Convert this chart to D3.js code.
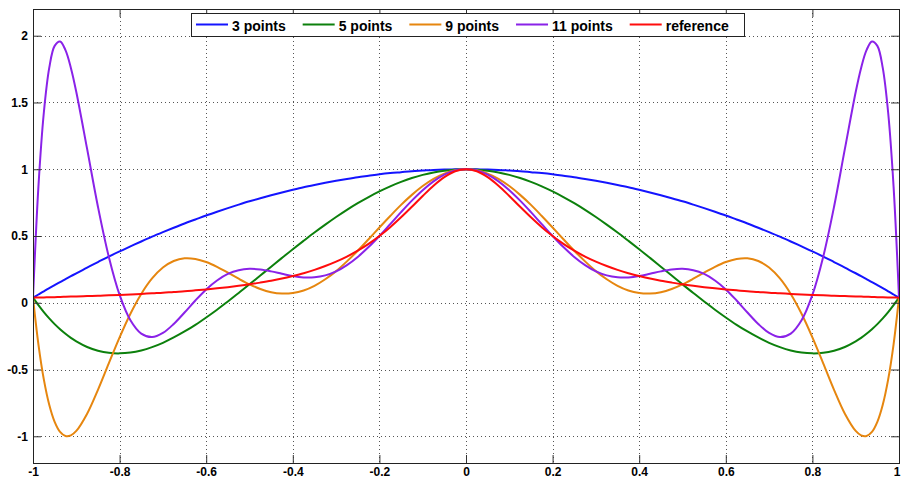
<!DOCTYPE html>
<html>
<head>
<meta charset="utf-8">
<script src="https://cdn.jsdelivr.net/npm/d3@7"></script>
<style>
  body { margin: 0; background: #fff; }
  svg { display: block; font-family: "Liberation Sans", Arial, Helvetica, sans-serif; }
</style>
</head>
<body>
<svg id="chart" width="901" height="479"></svg>
<script>
// sample positions along x (denser near the ends), and curve values
const xs = [-1, -0.9875, -0.975, -0.9625, -0.95, -0.9375, -0.925, -0.9125, -0.9, -0.875, -0.85, -0.825, -0.8, -0.775, -0.75, -0.725, -0.7, -0.675, -0.65, -0.625, -0.6, -0.575, -0.55, -0.525,
  -0.5, -0.475, -0.45, -0.425, -0.4, -0.375, -0.35, -0.325, -0.3, -0.275, -0.25, -0.225, -0.2, -0.175, -0.15, -0.125, -0.1, -0.075, -0.05, -0.025,
  0, 0.025, 0.05, 0.075, 0.1, 0.125, 0.15, 0.175, 0.2, 0.225, 0.25, 0.275, 0.3, 0.325, 0.35, 0.375, 0.4, 0.425, 0.45, 0.475,
  0.5, 0.525, 0.55, 0.575, 0.6, 0.625, 0.65, 0.675, 0.7, 0.725, 0.75, 0.775, 0.8, 0.825, 0.85, 0.875, 0.9, 0.9125, 0.925, 0.9375, 0.95, 0.9625, 0.975, 0.9875, 1];

const points3 = [0.038, 0.062, 0.086, 0.109, 0.132, 0.155, 0.177, 0.199, 0.221, 0.264, 0.305, 0.346, 0.385, 0.422, 0.459, 0.495, 0.529, 0.562, 0.594, 0.624, 0.654, 0.682, 0.709, 0.735,
  0.760, 0.783, 0.805, 0.826, 0.846, 0.865, 0.882, 0.898, 0.913, 0.927, 0.940, 0.951, 0.962, 0.971, 0.978, 0.985, 0.990, 0.995, 0.998, 0.999,
  1, 0.999, 0.998, 0.995, 0.990, 0.985, 0.978, 0.971, 0.962, 0.951, 0.940, 0.927, 0.913, 0.898, 0.882, 0.865, 0.846, 0.826, 0.805, 0.783,
  0.760, 0.735, 0.709, 0.682, 0.654, 0.624, 0.594, 0.562, 0.529, 0.495, 0.459, 0.422, 0.385, 0.346, 0.305, 0.264, 0.221, 0.199, 0.177, 0.155, 0.132, 0.109, 0.086, 0.062, 0.038];

const points5 = [0.038, -0.018, -0.070, -0.117, -0.160, -0.198, -0.232, -0.263, -0.289, -0.331, -0.359, -0.375, -0.379, -0.373, -0.357, -0.332, -0.300, -0.260, -0.215, -0.165, -0.110, -0.052, 0.010, 0.073,
  0.138, 0.204, 0.270, 0.336, 0.401, 0.464, 0.526, 0.585, 0.642, 0.696, 0.746, 0.792, 0.834, 0.872, 0.905, 0.934, 0.958, 0.976, 0.989, 0.997,
  1, 0.997, 0.989, 0.976, 0.958, 0.934, 0.905, 0.872, 0.834, 0.792, 0.746, 0.696, 0.642, 0.585, 0.526, 0.464, 0.401, 0.336, 0.270, 0.204,
  0.138, 0.073, 0.010, -0.052, -0.110, -0.165, -0.215, -0.260, -0.300, -0.332, -0.357, -0.373, -0.379, -0.375, -0.359, -0.331, -0.289, -0.263, -0.232, -0.198, -0.160, -0.117, -0.070, -0.018, 0.038];

const points9 = [0.038, -0.311, -0.574, -0.764, -0.892, -0.967, -0.998, -0.993, -0.960, -0.831, -0.652, -0.454, -0.259, -0.082, 0.066, 0.182, 0.264, 0.313, 0.333, 0.328, 0.305, 0.269, 0.225, 0.180,
  0.138, 0.103, 0.079, 0.069, 0.073, 0.092, 0.127, 0.176, 0.237, 0.310, 0.390, 0.476, 0.564, 0.650, 0.733, 0.808, 0.874, 0.928, 0.967, 0.992,
  1, 0.992, 0.967, 0.928, 0.874, 0.808, 0.733, 0.650, 0.564, 0.476, 0.390, 0.310, 0.237, 0.176, 0.127, 0.092, 0.073, 0.069, 0.079, 0.103,
  0.138, 0.180, 0.225, 0.269, 0.305, 0.328, 0.333, 0.313, 0.264, 0.182, 0.066, -0.082, -0.259, -0.454, -0.652, -0.831, -0.960, -0.993, -0.998, -0.967, -0.892, -0.764, -0.574, -0.311, 0.038];

const points11 = [0.038, 0.868, 1.423, 1.759, 1.924, 1.957, 1.892, 1.759, 1.579, 1.152, 0.719, 0.345, 0.059, -0.131, -0.231, -0.257, -0.226, -0.159, -0.073, 0.017, 0.100, 0.167, 0.216, 0.244,
  0.254, 0.249, 0.235, 0.217, 0.200, 0.190, 0.191, 0.205, 0.235, 0.282, 0.343, 0.417, 0.500, 0.589, 0.679, 0.765, 0.843, 0.909, 0.959, 0.990,
  1, 0.990, 0.959, 0.909, 0.843, 0.765, 0.679, 0.589, 0.500, 0.417, 0.343, 0.282, 0.235, 0.205, 0.191, 0.190, 0.200, 0.217, 0.235, 0.249,
  0.254, 0.244, 0.216, 0.167, 0.100, 0.017, -0.073, -0.159, -0.226, -0.257, -0.231, -0.131, 0.059, 0.345, 0.719, 1.152, 1.579, 1.759, 1.892, 1.957, 1.924, 1.759, 1.423, 0.868, 0.038];

const reference = [0.038, 0.039, 0.040, 0.041, 0.042, 0.044, 0.045, 0.046, 0.047, 0.050, 0.052, 0.056, 0.059, 0.062, 0.066, 0.071, 0.075, 0.081, 0.086, 0.093, 0.100, 0.108, 0.117, 0.127,
  0.138, 0.151, 0.165, 0.181, 0.200, 0.221, 0.246, 0.275, 0.308, 0.346, 0.390, 0.441, 0.500, 0.566, 0.640, 0.719, 0.800, 0.877, 0.941, 0.985,
  1, 0.985, 0.941, 0.877, 0.800, 0.719, 0.640, 0.566, 0.500, 0.441, 0.390, 0.346, 0.308, 0.275, 0.246, 0.221, 0.200, 0.181, 0.165, 0.151,
  0.138, 0.127, 0.117, 0.108, 0.100, 0.093, 0.086, 0.081, 0.075, 0.071, 0.066, 0.062, 0.059, 0.056, 0.052, 0.050, 0.047, 0.046, 0.045, 0.044, 0.042, 0.041, 0.040, 0.039, 0.038];

const seriesNames = ["3 points", "5 points", "9 points", "11 points", "reference"];
const seriesValues = [points3, points5, points9, points11, reference];
const seriesColors = ["#1414ff", "#0c800c", "#e6860f", "#8a22e8", "#ff0c0c"];

const xTicks = [-1, -0.8, -0.6, -0.4, -0.2, 0, 0.2, 0.4, 0.6, 0.8, 1];
const yTicks = [-1, -0.5, 0, 0.5, 1, 1.5, 2];

const svg = d3.select("#chart");
const plotL = 33, plotR = 899, plotT = 9, plotB = 463;

const x = d3.scaleLinear().domain([-1, 1]).range([plotL, plotR]);
const y = d3.scaleLinear().domain([-1.2, 2.2]).range([plotB, plotT]);

// dotted grid
const grid = svg.append("g").attr("stroke", "#555").attr("stroke-dasharray", "1,3").attr("stroke-width", 1);
grid.selectAll(".gx").data(xTicks.slice(1, -1)).join("line")
    .attr("x1", d => Math.round(x(d)) + 0.5).attr("x2", d => Math.round(x(d)) + 0.5)
    .attr("y1", plotT).attr("y2", plotB);
grid.selectAll(".gy").data(yTicks).join("line")
    .attr("x1", plotL).attr("x2", plotR)
    .attr("y1", d => Math.round(y(d)) + 0.5).attr("y2", d => Math.round(y(d)) + 0.5);

// curves
svg.append("clipPath").attr("id", "plot-clip")
    .append("rect").attr("x", plotL).attr("y", plotT).attr("width", plotR - plotL).attr("height", plotB - plotT);

const line = d3.line()
    .x((d, i) => x(xs[i]))
    .y(d => y(d))
    .curve(d3.curveCatmullRom.alpha(0.5));

svg.append("g").attr("clip-path", "url(#plot-clip)")
    .selectAll("path").data(seriesValues).join("path")
    .attr("fill", "none")
    .attr("stroke", (d, i) => seriesColors[i])
    .attr("stroke-width", 2)
    .attr("stroke-linejoin", "round")
    .attr("d", line);

// axes, ticks pointing inward on all four sides
const fmt = d => String(d);

svg.append("g")
    .attr("transform", `translate(0,${plotB})`)
    .call(d3.axisBottom(x).tickValues(xTicks).tickSize(-8).tickPadding(4).tickFormat(fmt))
    .call(g => g.select(".domain").remove())
    // last label sits at the window edge: right-align it so it stays inside
    .call(g => g.selectAll(".tick text").filter(d => d === 1).attr("text-anchor", "end").attr("x", 1));

svg.append("g")
    .attr("transform", `translate(${plotL},0)`)
    .call(d3.axisLeft(y).tickValues(yTicks).tickSize(-8).tickPadding(5).tickFormat(fmt))
    .call(g => g.select(".domain").remove());

svg.append("g")
    .attr("transform", `translate(0,${plotT})`)
    .call(d3.axisTop(x).tickValues(xTicks).tickSize(-8).tickFormat(""))
    .call(g => g.select(".domain").remove());

svg.append("g")
    .attr("transform", `translate(${plotR},0)`)
    .call(d3.axisRight(y).tickValues(yTicks).tickSize(-8).tickFormat(""))
    .call(g => g.select(".domain").remove());

svg.selectAll(".tick line").attr("stroke", "#333");
svg.selectAll(".tick text")
    .attr("fill", "#000")
    .style("font-size", "12px")
    .style("font-weight", "bold")
    .style("font-family", "\"Liberation Sans\", Arial, sans-serif");

svg.append("rect")
    .attr("x", plotL + 0.5).attr("y", plotT + 0.5)
    .attr("width", plotR - plotL).attr("height", plotB - plotT)
    .attr("fill", "none").attr("stroke", "#222");

// legend
const legend = svg.append("g");
legend.append("rect")
    .attr("x", 191.5).attr("y", 13.5).attr("width", 553).attr("height", 23)
    .attr("fill", "#fff").attr("stroke", "#222");

let lx = 196;
seriesNames.forEach((name, i) => {
    legend.append("line")
        .attr("x1", lx).attr("x2", lx + 32)
        .attr("y1", 24.5).attr("y2", 24.5)
        .attr("stroke", seriesColors[i]).attr("stroke-width", 2);
    const t = legend.append("text")
        .attr("x", lx + 36).attr("y", 31)
        .attr("fill", "#000")
        .style("font-size", "14px")
        .style("font-weight", "bold")
        .text(name);
    lx += 36 + t.node().getComputedTextLength() + 17;
});
</script>
</body>
</html>
